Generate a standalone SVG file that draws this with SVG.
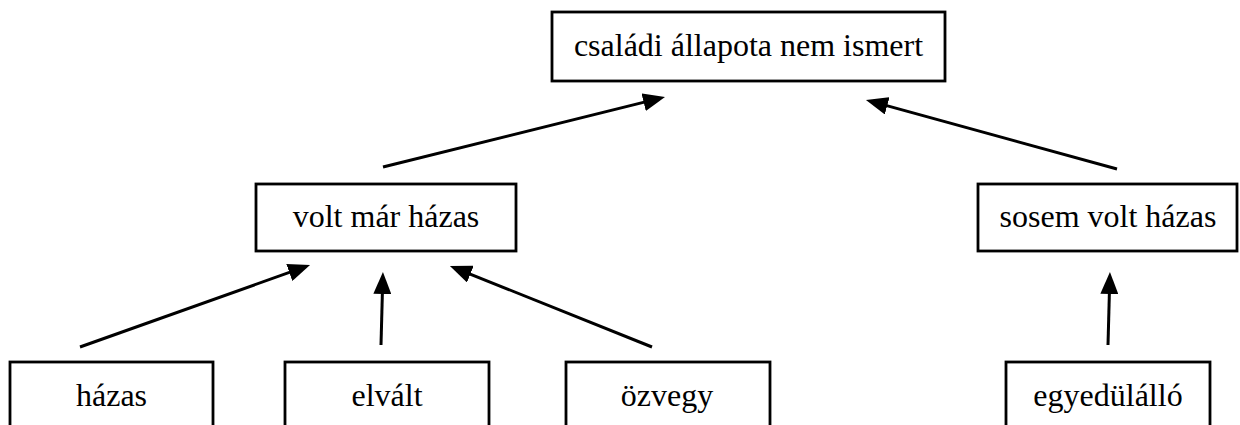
<svg xmlns="http://www.w3.org/2000/svg" width="1240" height="425" viewBox="0 0 1240 425">
  <style>
    .box { fill: #ffffff; stroke: #000000; stroke-width: 2.8; }
    .label { font-family: "Liberation Serif", "Times New Roman", serif; font-size: 32px; fill: #000000; text-anchor: middle; }
    .edge { stroke: #000000; stroke-width: 3; fill: none; marker-end: url(#head); }
  </style>
  <defs>
    <marker id="head" markerUnits="userSpaceOnUse" markerWidth="22" markerHeight="18" refX="9" refY="9" orient="auto">
      <path d="M0,0 L22,9 L0,18 z" fill="#000000"/>
    </marker>
  </defs>

  <rect width="1240" height="425" fill="#ffffff"/>

  <!-- connectors: each child points up to its parent -->
  <g id="connectors">
    <line class="edge" x1="80" y1="347" x2="297.8" y2="269.4"/>
    <line class="edge" x1="381" y1="345" x2="382.6" y2="285"/>
    <line class="edge" x1="652" y1="347" x2="462" y2="270.8"/>
    <line class="edge" x1="1108" y1="345" x2="1109.6" y2="285"/>
    <line class="edge" x1="383" y1="167" x2="652.4" y2="100.1"/>
    <line class="edge" x1="1117" y1="169" x2="878.5" y2="103.4"/>
  </g>

  <g id="node-root">
    <rect class="box" x="552" y="12" width="393" height="69"/>
    <text class="label" x="748.5" y="56">családi állapota nem ismert</text>
  </g>

  <g id="node-volt">
    <rect class="box" x="256" y="184" width="260" height="67"/>
    <text class="label" x="386" y="227">volt már házas</text>
  </g>

  <g id="node-sosem">
    <rect class="box" x="978" y="184" width="259" height="67"/>
    <text class="label" x="1108" y="227">sosem volt házas</text>
  </g>

  <g id="node-hazas">
    <rect class="box" x="10" y="362" width="203" height="90"/>
    <text class="label" x="111.5" y="406">házas</text>
  </g>

  <g id="node-elvalt">
    <rect class="box" x="285" y="362" width="204" height="90"/>
    <text class="label" x="387" y="406">elvált</text>
  </g>

  <g id="node-ozvegy">
    <rect class="box" x="566" y="362" width="204" height="90"/>
    <text class="label" x="667" y="406">özvegy</text>
  </g>

  <g id="node-egyedulallo">
    <rect class="box" x="1006" y="362" width="204" height="90"/>
    <text class="label" x="1108" y="406">egyedülálló</text>
  </g>
</svg>
